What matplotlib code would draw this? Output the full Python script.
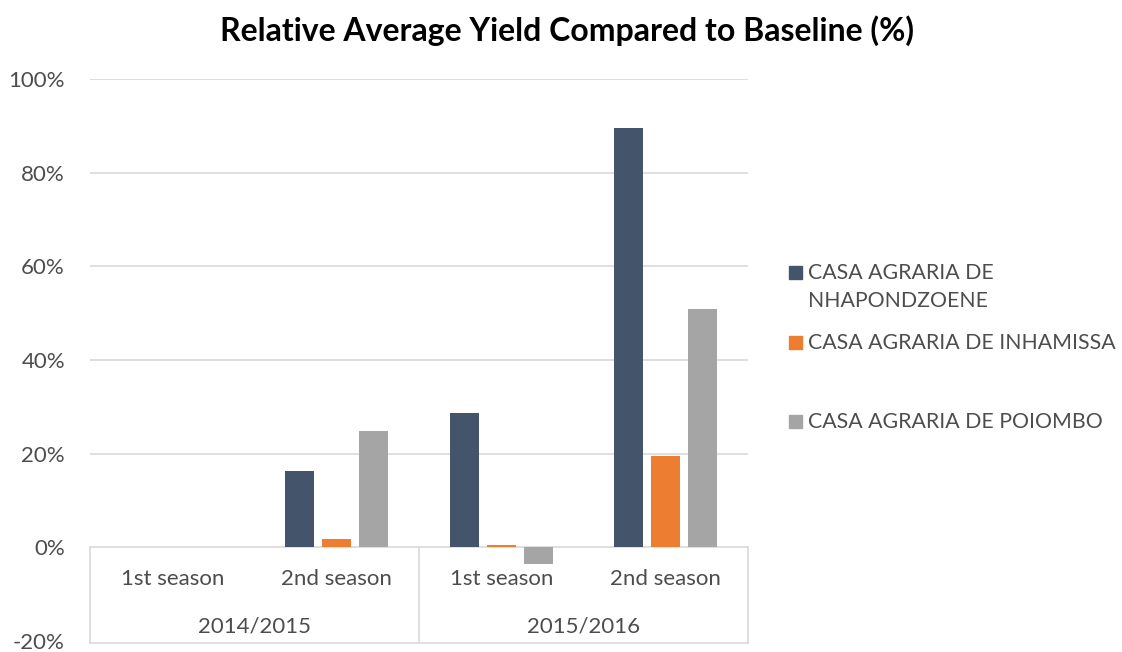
import numpy as np
import matplotlib
matplotlib.use("Agg")
import matplotlib.pyplot as plt
from matplotlib.patches import Rectangle

# data
years = ["2014/2015", "2015/2016"]
seasons = ["1st season", "2nd season", "1st season", "2nd season"]
series_names = ["CASA AGRARIA DE\nNHAPONDZOENE", "CASA AGRARIA DE INHAMISSA", "CASA AGRARIA DE POIOMBO"]
nhapondzoene = [0, 16.3, 28.7, 89.6]
inhamissa = [0, 1.8, 0.6, 19.5]
poiombo = [0, 24.9, -3.6, 50.8]
yticks = [-20, 0, 20, 40, 60, 80, 100]

colors = ["#44546A", "#ED7D31", "#A5A5A5"]
txt = "#4D4D4D"
grid = "#D9D9D9"
plt.rcParams['font.family'] = ['Lato', 'DejaVu Sans']

fig = plt.figure(figsize=(11.22, 6.52), dpi=100)
ax = fig.add_axes([90 / 1122, 1 - 641 / 652, (748 - 90) / 1122, (641 - 79) / 652])

x = np.arange(len(seasons))
width = 0.176
step = 0.225
for i, vals in enumerate([nhapondzoene, inhamissa, poiombo]):
    ax.bar(x + (i - 1) * step, vals, width, color=colors[i], zorder=3)

ax.set_xlim(-0.5, 3.5)
ax.set_ylim(-20, 100)
ax.set_yticks(yticks)
ax.set_yticklabels([f"{t}%" for t in yticks], color=txt, fontsize=16)
ax.tick_params(axis='y', length=0, pad=18)
ax.set_xticks([])
for s in ax.spines.values():
    s.set_visible(False)

# gridlines (above zero)
for t in yticks[2:]:
    ax.axhline(t, color=grid, lw=1.2, zorder=1)

# category axis box drawn inside the negative range
ax.axhline(0, color=grid, lw=1.2, zorder=2)
ax.plot([-0.5, 3.5], [-20.4, -20.4], color=grid, lw=1.2, clip_on=False)
for xv in [-0.5, 1.5, 3.5]:
    ax.plot([xv, xv], [-20.4, 0], color=grid, lw=1.2, clip_on=False)

for xi, s in zip(x, seasons):
    ax.text(xi, -6.8, s, ha='center', va='center', color=txt, fontsize=16)
for gi, y in enumerate(years):
    ax.text(gi * 2 + 0.5, -17.0, y, ha='center', va='center', color=txt, fontsize=16)

fig.text(567 / 1122, 1 - 31 / 652, "Relative Average Yield Compared to Baseline (%)",
         ha='center', va='center', fontsize=23, fontweight='bold', color='black')

# legend
leg_y = [273, 343, 422]
for c, name, yy in zip(colors, series_names, leg_y):
    fig.patches.append(Rectangle((789 / 1122, 1 - (yy + 6) / 652), 13 / 1122, 13 / 652,
                                 transform=fig.transFigure, color=c))
    lines = name.split("\n")
    for k, ln in enumerate(lines):
        fig.text(808 / 1122, 1 - (yy + k * 28) / 652, ln, ha='left', va='center',
                 color=txt, fontsize=15.3)

fig.savefig("out.png", dpi=100)
